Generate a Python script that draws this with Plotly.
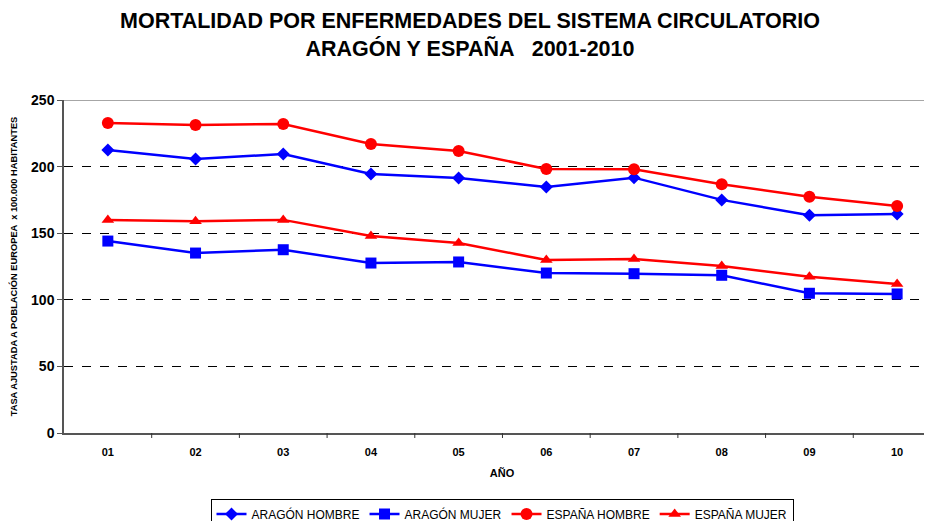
import plotly.graph_objects as go

years = ["01", "02", "03", "04", "05", "06", "07", "08", "09", "10"]

aragon_hombre = [212.5, 205.7, 209.5, 194.4, 191.4, 184.7, 191.7, 175.0, 163.4, 164.4]
aragon_mujer = [144.1, 135.1, 137.6, 127.6, 128.4, 120.1, 119.6, 118.4, 104.9, 104.4]
espana_hombre = [232.7, 231.2, 232.0, 217.0, 211.7, 198.2, 198.0, 186.7, 177.4, 170.4]
espana_mujer = [159.9, 159.0, 160.0, 147.9, 142.6, 129.9, 130.6, 125.4, 117.3, 111.9]

series = [
    ("ARAGÓN HOMBRE", aragon_hombre, "#0000FF", "diamond", 10),
    ("ARAGÓN MUJER", aragon_mujer, "#0000FF", "square", 11),
    ("ESPAÑA HOMBRE", espana_hombre, "#FF0000", "circle", 12),
    ("ESPAÑA MUJER", espana_mujer, "#FF0000", "triangle-up", 11),
]

fig = go.Figure()
for name, vals, color, symbol, size in series:
    fig.add_trace(go.Scatter(
        x=years, y=vals, name=name, mode="lines+markers",
        line=dict(color=color, width=2.5),
        marker=dict(symbol=symbol, size=size, color=color),
    ))

# page has an 8px body margin, so margins are offset by that
fig.update_layout(
    width=932, height=521,
    paper_bgcolor="white", plot_bgcolor="white",
    margin=dict(l=56, r=0, t=92, b=96, autoexpand=False),
    font=dict(family="Arial, Liberation Sans", color="black"),
    title=dict(
        text="<b>MORTALIDAD POR ENFERMEDADES DEL SISTEMA CIRCULATORIO<br>ARAGÓN Y ESPAÑA   2001-2010</b>",
        x=0.4957, xanchor="center", y=0.962, yanchor="top",
        font=dict(size=21.5),
    ),
    showlegend=True,
    legend=dict(
        orientation="h", x=0.5, xanchor="center", y=-0.197, yanchor="top",
        bordercolor="black", borderwidth=1, font=dict(size=12),
        itemwidth=30, tracegroupgap=0,
    ),
)

fig.update_xaxes(
    type="category", range=[-0.5, 9.489], automargin=False,
    showline=True, linecolor="#555555", linewidth=1.5, mirror=False,
    ticks="", showgrid=False, ticklabelstandoff=8,
    tickfont=dict(size=11, weight="bold"),
    title=dict(text="<b>AÑO</b>", font=dict(size=11), standoff=12),
)
fig.update_yaxes(
    range=[0, 250], dtick=50, automargin=False,
    showline=True, linecolor="#555555", linewidth=1.5,
    ticks="outside", ticklen=5, tickcolor="#555555",
    showgrid=True, gridcolor="black", griddash="dash", gridwidth=1,
    zeroline=False,
    tickfont=dict(size=14, weight="bold"),
    title=dict(text="<b>TASA AJUSTADA A POBLACIÓN EUROPEA  x 100.000 HABITANTES</b>",
               font=dict(size=9.3), standoff=12),
)

# category boundary ticks on x axis and top border
for i in range(1, 10):
    fig.add_shape(type="line", xref="x", yref="paper", x0=i - 0.5, x1=i - 0.5,
                  y0=0, y1=-0.015, line=dict(color="#333333", width=1))
fig.add_shape(type="line", xref="paper", yref="y", x0=0, x1=1, y0=250, y1=250,
              line=dict(color="#888888", width=1.5))

fig.write_html("out.html")
